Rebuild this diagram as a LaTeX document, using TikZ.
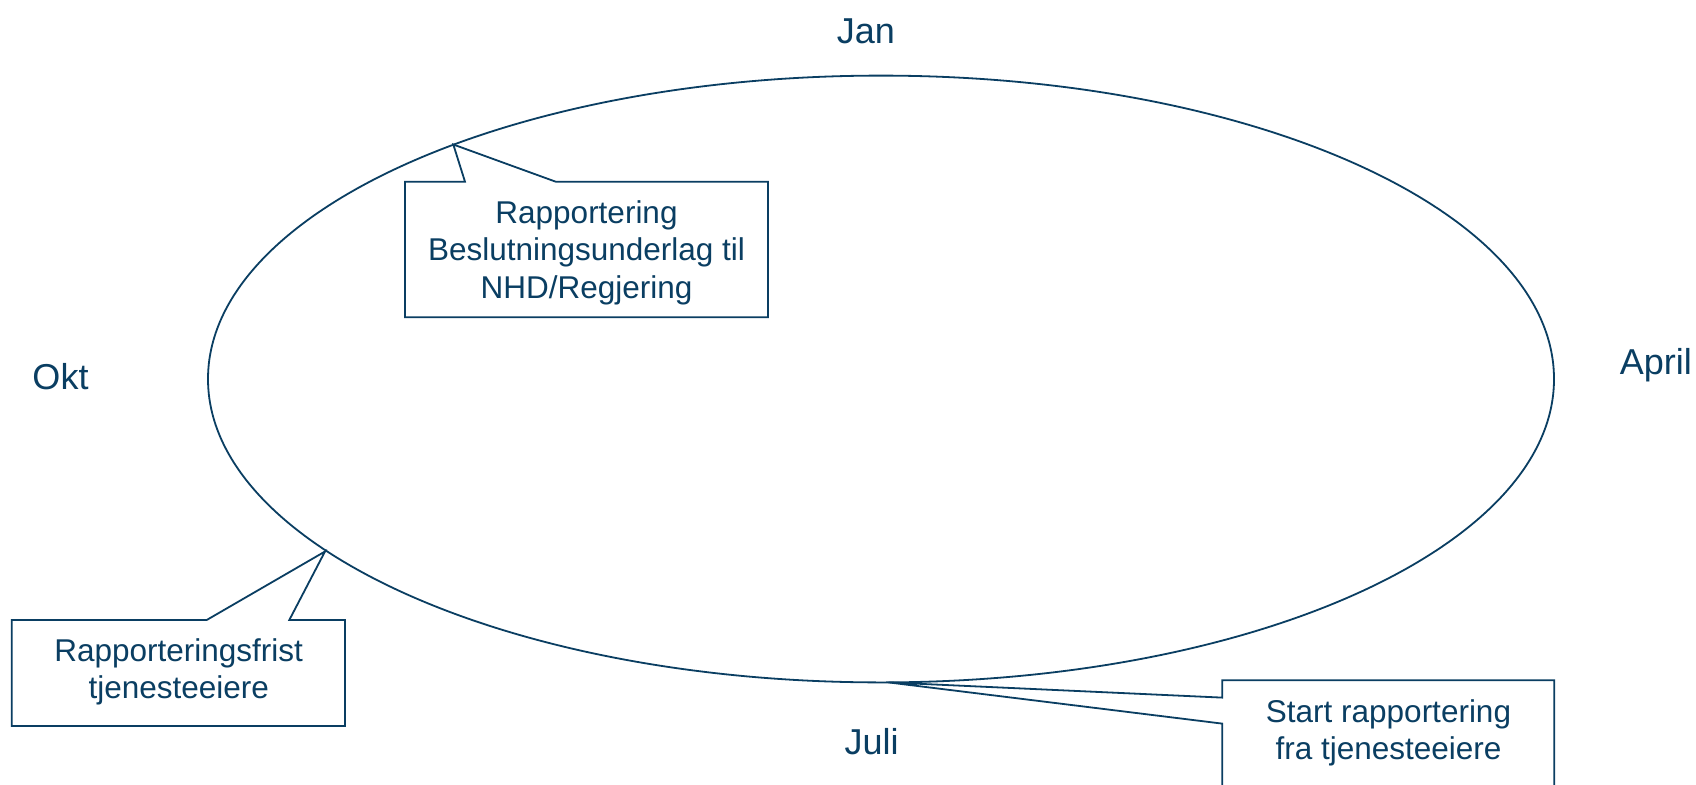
\documentclass[tikz,border=0pt]{standalone}
\usepackage{fontspec}
\setmainfont{Liberation Sans}
\usetikzlibrary{shapes.geometric,calc}
\definecolor{navy}{RGB}{10,62,98}

\begin{document}
\begin{tikzpicture}[x=1pt,y=-1pt,
  month/.style={font=\fontsize{36}{43}\selectfont, text=navy, anchor=base, inner sep=0},
  note/.style={font=\fontsize{31.5}{37.5}\selectfont, text=navy, align=center, inner sep=0},
  frame/.style={rectangle, draw=none, inner sep=0, outer sep=0},
  bubble/.style={draw=navy, fill=white, line width=1.8, line join=miter}]

\useasboundingbox (0,0) rectangle (1696,784);
\clip (0,0) rectangle (1696,784);
\fill[white] (0,0) rectangle (1696,784);

% the year wheel
\node[ellipse, draw=navy, line width=1.8, inner sep=0, outer sep=0,
      minimum width=1346, minimum height=606.8] (year) at (881,379) {};

% month labels
\node[month] (jan)   at (865.8,44)   {Jan};
\node[month] (okt)   at (60.5,389)   {Okt};
\node[month] (april) at (1655.8,374) {April};
\node[month] (juli)  at (871.7,754.3) {Juli};

% points on the wheel where the callouts point
\coordinate (tipBeslut) at (453.3,144.5);
\coordinate (tipFrist)  at (325,551.5);
\coordinate (tipStart)  at (888.5,682.4);

% callout frames
\node[frame, minimum width=363,   minimum height=135.6] (beslutBox) at (586.5,249.5) {};
\node[frame, minimum width=333.3, minimum height=106]   (fristBox)  at (178.35,673) {};
\node[frame, minimum width=332.1, minimum height=126]   (startBox)  at (1388.2,743.3) {};

\draw[bubble] (beslutBox.north west) -- ($(beslutBox.north west)+(60,0)$) -- (tipBeslut)
  -- ($(beslutBox.north west)+(150.7,0)$) -- (beslutBox.north east)
  -- (beslutBox.south east) -- (beslutBox.south west) -- cycle;

\draw[bubble] (fristBox.north west) -- ($(fristBox.north west)+(195,0)$) -- (tipFrist)
  -- ($(fristBox.north west)+(277.6,0)$) -- (fristBox.north east)
  -- (fristBox.south east) -- (fristBox.south west) -- cycle;

\draw[bubble] (startBox.north west) -- ($(startBox.north west)+(0,17.3)$) -- (tipStart)
  -- ($(startBox.north west)+(0,43.3)$) -- (startBox.south west)
  -- (startBox.south east) -- (startBox.north east) -- cycle;

% callout texts
\node[note] (beslut) at (586.5,252.8) {Rapportering\\Beslutningsunderlag til\\NHD/Regjering};
\node[note] (frist)  at (178.7,671.8) {Rapporteringsfrist\\tjenesteeiere};
\node[note, font=\fontsize{31.5}{36.6}\selectfont] (start) at (1388.5,732.8)
  {Start rapportering\\fra tjenesteeiere};

\end{tikzpicture}
\end{document}
